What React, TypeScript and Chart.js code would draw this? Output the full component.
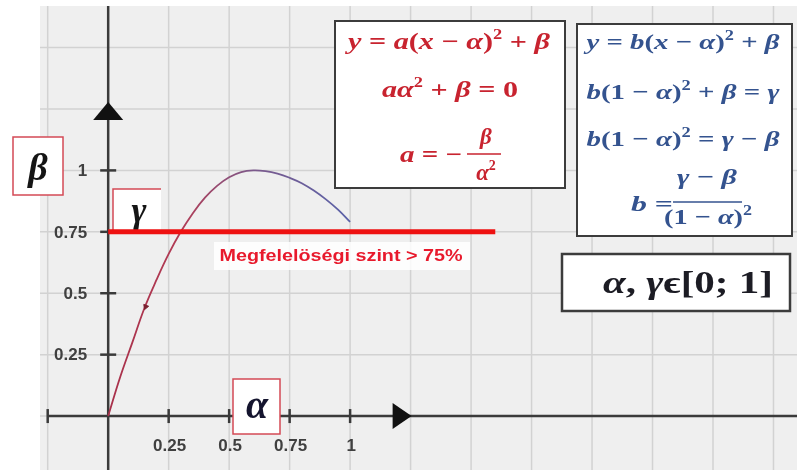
import React, { useEffect, useRef } from "react";
import { Chart, registerables } from "chart.js";

Chart.register(...registerables);

// ---------------- data ----------------
const curveX = [0, 0.05, 0.1, 0.15, 0.2, 0.25, 0.3, 0.35, 0.4, 0.45, 0.5, 0.55, 0.6, 0.65, 0.7, 0.75, 0.8, 0.85, 0.9, 0.95, 1];
const curveY = [0, 0.16, 0.3, 0.44, 0.555, 0.66, 0.75, 0.826, 0.889, 0.937, 0.972, 0.993, 1, 0.997, 0.987, 0.97, 0.948, 0.918, 0.882, 0.84, 0.79];
const thresholdX = [0, 1.6];
const thresholdY = [0.75, 0.75];
const markerX = [0.155];
const markerY = [0.445];
const xTickValues = [0.25, 0.5, 0.75, 1];
const xTickLabels = ["0.25", "0.5", "0.75", "1"];
const yTickValues = [0.25, 0.5, 0.75, 1];
const yTickLabels = ["0.25", "0.5", "0.75", "1"];
const xExtraTicks = [-0.25];
const gridStep = 0.25;
const arrowAt = 1.25;
const thresholdLabel = "Megfelelöségi szint > 75%";
const redLines = ["y = a(x − α)^2 + β", "aα^2 + β = 0"];
const redFrac = { lead: "a = −", num: "β", den: "α^2" };
const blueLines = ["y = b(x − α)^2 + β", "b(1 − α)^2 + β = γ", "b(1 − α)^2 = γ − β"];
const blueFrac = { lead: "b =", num: "γ − β", den: "(1 − α)^2" };
const rangeText = "α, γϵ[0; 1]";
const xLetter = "α";
const yLetter = "β";
const levelLetter = "γ";

// ---------------- helpers ----------------
const MATH_FAMILY = '"Liberation Serif", "DejaVu Serif", serif';
const SANS = '"Liberation Sans", Arial, sans-serif';

type Piece = { t: string; sup: boolean; it: boolean };
function mathPieces(expr: string): Piece[] {
  const out: Piece[] = [];
  const chars = Array.from(expr);
  for (let i = 0; i < chars.length; i++) {
    const ch = chars[i];
    if (ch === "^") {
      out.push({ t: chars[i + 1], sup: true, it: false });
      i++;
      continue;
    }
    out.push({ t: ch, sup: false, it: /[a-zA-Zα-ω]/.test(ch) });
  }
  return out;
}

function drawMath(ctx: CanvasRenderingContext2D, expr: string, cx: number, baseY: number, size: number, color: string, targetW?: number) {
  const ps = mathPieces(expr);
  const fontOf = (p: Piece) => `${p.it ? "italic " : ""}bold ${p.sup ? Math.round(size * 0.62) : size}px ${MATH_FAMILY}`;
  const ws: number[] = [];
  let w = 0;
  for (const p of ps) {
    ctx.font = fontOf(p);
    const m = ctx.measureText(p.t).width;
    ws.push(m);
    w += m;
  }
  const s = targetW ? targetW / w : 1;
  ctx.save();
  ctx.translate(cx - (w * s) / 2, baseY);
  ctx.scale(s, 1);
  ctx.fillStyle = color;
  ctx.textAlign = "left";
  ctx.textBaseline = "alphabetic";
  let xx = 0;
  ps.forEach((p, i) => {
    ctx.font = fontOf(p);
    ctx.fillText(p.t, xx, p.sup ? -size * 0.42 : 0);
    xx += ws[i];
  });
  ctx.restore();
}

function fitText(ctx: CanvasRenderingContext2D, text: string, cx: number, baseY: number, font: string, color: string, targetW: number) {
  ctx.save();
  ctx.font = font;
  const w = ctx.measureText(text).width;
  const s = targetW / w;
  ctx.translate(cx - targetW / 2, baseY);
  ctx.scale(s, 1);
  ctx.fillStyle = color;
  ctx.textAlign = "left";
  ctx.textBaseline = "alphabetic";
  ctx.fillText(text, 0, 0);
  ctx.restore();
}

function box(ctx: CanvasRenderingContext2D, l: number, t: number, r: number, b: number, stroke: string, lw: number) {
  ctx.fillStyle = "#ffffff";
  ctx.fillRect(l, t, r - l, b - t);
  ctx.strokeStyle = stroke;
  ctx.lineWidth = lw;
  ctx.strokeRect(l, t, r - l, b - t);
}

const RED_TXT = "#c8232f";
const BLUE_TXT = "#34538f";

// ---------------- plugins ----------------
const backPlugin = {
  id: "geoBack",
  beforeDatasetsDraw(chart: any) {
    const { ctx, width, height } = chart;
    const x = chart.scales.x;
    const y = chart.scales.y;
    const x0 = x.getPixelForValue(0);
    const y0 = y.getPixelForValue(0);
    ctx.save();
    ctx.fillStyle = "#ffffff";
    ctx.fillRect(0, 0, width, height);
    const viewL = 40;
    const viewT = 6;
    ctx.fillStyle = "#efefef";
    ctx.fillRect(viewL, viewT, width - viewL, height - viewT);

    // grid
    ctx.strokeStyle = "#d2d2d2";
    ctx.lineWidth = 1.5;
    for (let k = -1; k * gridStep <= x.max; k++) {
      const px = x.getPixelForValue(k * gridStep);
      if (px < viewL) continue;
      ctx.beginPath();
      ctx.moveTo(px, viewT);
      ctx.lineTo(px, height);
      ctx.stroke();
    }
    for (let k = -1; k * gridStep <= y.max; k++) {
      const py = y.getPixelForValue(k * gridStep);
      if (py < viewT || py > height) continue;
      ctx.beginPath();
      ctx.moveTo(viewL, py);
      ctx.lineTo(width, py);
      ctx.stroke();
    }

    // axes
    ctx.strokeStyle = "#3a3a3a";
    ctx.lineWidth = 2.5;
    ctx.beginPath();
    ctx.moveTo(x.getPixelForValue(xExtraTicks[0]), y0);
    ctx.lineTo(width, y0);
    ctx.stroke();
    ctx.beginPath();
    ctx.moveTo(x0, viewT);
    ctx.lineTo(x0, height);
    ctx.stroke();

    // ticks
    ctx.lineWidth = 2.5;
    [...xExtraTicks, ...xTickValues].forEach((v) => {
      const px = x.getPixelForValue(v);
      ctx.beginPath();
      ctx.moveTo(px, y0 - 7);
      ctx.lineTo(px, y0 + 7);
      ctx.stroke();
    });
    yTickValues.forEach((v) => {
      const py = y.getPixelForValue(v);
      ctx.beginPath();
      ctx.moveTo(x0 - 8, py);
      ctx.lineTo(x0 + 8, py);
      ctx.stroke();
    });

    // arrows
    ctx.fillStyle = "#111111";
    const ax = x.getPixelForValue(arrowAt) + 1;
    ctx.beginPath();
    ctx.moveTo(ax, y0);
    ctx.lineTo(ax - 19, y0 - 13);
    ctx.lineTo(ax - 19, y0 + 13);
    ctx.closePath();
    ctx.fill();
    const ay = y.getPixelForValue(arrowAt) - 7;
    ctx.beginPath();
    ctx.moveTo(x0, ay);
    ctx.lineTo(x0 - 15, ay + 18);
    ctx.lineTo(x0 + 15, ay + 18);
    ctx.closePath();
    ctx.fill();

    // tick labels
    ctx.fillStyle = "#404040";
    ctx.font = `bold 17px ${SANS}`;
    ctx.textAlign = "center";
    ctx.textBaseline = "middle";
    xTickValues.forEach((v, i) => {
      ctx.fillText(xTickLabels[i], x.getPixelForValue(v) + 1, y0 + 30);
    });
    ctx.textAlign = "right";
    yTickValues.forEach((v, i) => {
      ctx.fillText(yTickLabels[i], x0 - 21, y.getPixelForValue(v) + 1);
    });

    // gamma box (behind the threshold line)
    const gl = 113;
    const gt = 189;
    const gb = y.getPixelForValue(0.75);
    ctx.fillStyle = "#ffffff";
    ctx.fillRect(gl, gt, 48, gb - gt);
    ctx.strokeStyle = "#d44a55";
    ctx.lineWidth = 1.5;
    ctx.beginPath();
    ctx.moveTo(gl + 48, gt);
    ctx.lineTo(gl, gt);
    ctx.lineTo(gl, gb);
    ctx.stroke();
    ctx.fillStyle = "#151515";
    ctx.font = `italic bold 36px ${MATH_FAMILY}`;
    ctx.textAlign = "center";
    ctx.textBaseline = "alphabetic";
    ctx.fillText(levelLetter, 139, 222);
    ctx.restore();
  },
};

const frontPlugin = {
  id: "geoFront",
  afterDatasetsDraw(chart: any) {
    const { ctx } = chart;
    ctx.save();

    // alpha box on the x axis
    box(ctx, 233, 379, 280, 434, "#d44a55", 1.5);
    ctx.fillStyle = "#14142e";
    ctx.font = `italic bold 40px ${MATH_FAMILY}`;
    ctx.textAlign = "center";
    ctx.textBaseline = "alphabetic";
    ctx.fillText(xLetter, 257, 418);

    // beta box
    box(ctx, 13, 137, 63, 195, "#d44a55", 1.5);
    ctx.fillStyle = "#151515";
    ctx.font = `italic bold 38px ${MATH_FAMILY}`;
    ctx.fillText(yLetter, 38, 180);

    // threshold label
    ctx.fillStyle = "rgba(255,255,255,0.85)";
    ctx.fillRect(214, 242, 256, 28);
    fitText(ctx, thresholdLabel, 341, 261, `bold 16px ${SANS}`, "#e8192c", 243);

    // red formula box
    box(ctx, 335, 21, 565, 188, "#3c3c3c", 2);
    drawMath(ctx, redLines[0], 449, 49, 23, RED_TXT, 202);
    drawMath(ctx, redLines[1], 450, 97, 23, RED_TXT, 136);
    drawMath(ctx, redFrac.lead, 431, 162, 23, RED_TXT, 62);
    drawMath(ctx, redFrac.num, 486, 144, 23, RED_TXT);
    drawMath(ctx, redFrac.den, 486, 180, 23, RED_TXT);
    ctx.strokeStyle = RED_TXT;
    ctx.lineWidth = 1.5;
    ctx.beginPath();
    ctx.moveTo(467, 154);
    ctx.lineTo(501, 154);
    ctx.stroke();

    // blue formula box
    box(ctx, 577, 24, 792, 236, "#3c3c3c", 2);
    drawMath(ctx, blueLines[0], 683, 49, 22, BLUE_TXT, 193);
    drawMath(ctx, blueLines[1], 683, 99, 22, BLUE_TXT, 193);
    drawMath(ctx, blueLines[2], 683, 146, 22, BLUE_TXT, 193);
    drawMath(ctx, blueFrac.lead, 652, 211, 22, BLUE_TXT, 42);
    drawMath(ctx, blueFrac.num, 707, 184, 22, BLUE_TXT, 60);
    drawMath(ctx, blueFrac.den, 708, 224, 22, BLUE_TXT, 88);
    ctx.strokeStyle = BLUE_TXT;
    ctx.lineWidth = 1.5;
    ctx.beginPath();
    ctx.moveTo(673, 202);
    ctx.lineTo(742, 202);
    ctx.stroke();

    // range box
    box(ctx, 562, 254, 790, 311, "#3c3c3c", 2.5);
    drawMath(ctx, rangeText, 688, 293, 31, "#1c1c24", 170);

    ctx.restore();
  },
};

// ---------------- component ----------------
export default function App() {
  const ref = useRef<HTMLCanvasElement | null>(null);

  useEffect(() => {
    if (!ref.current) return;
    const curveColor = (context: any) => {
      const chart = context.chart;
      const { ctx, chartArea, scales } = chart;
      if (!chartArea) return "#b83a4c";
      const p0 = scales.x.getPixelForValue(0);
      const p1 = scales.x.getPixelForValue(1);
      const g = ctx.createLinearGradient(p0, 0, p1, 0);
      g.addColorStop(0, "#a8304a");
      g.addColorStop(0.3, "#b23c55");
      g.addColorStop(0.6, "#7c5a8c");
      g.addColorStop(1, "#5a62a8");
      return g;
    };

    const chart = new Chart(ref.current, {
      type: "scatter",
      data: {
        datasets: [
          {
            label: "curve",
            data: curveX.map((v, i) => ({ x: v, y: curveY[i] })),
            showLine: true,
            borderColor: curveColor,
            borderWidth: 1.8,
            pointRadius: 0,
            tension: 0.4,
            order: 2,
          },
          {
            label: "threshold",
            data: thresholdX.map((v, i) => ({ x: v, y: thresholdY[i] })),
            showLine: true,
            borderColor: "#ee1111",
            borderWidth: 5,
            pointRadius: 0,
            order: 1,
          },
          {
            label: "marker",
            data: markerX.map((v, i) => ({ x: v, y: markerY[i] })),
            showLine: false,
            pointStyle: "triangle",
            pointRotation: 201,
            pointRadius: 3,
            backgroundColor: "#7a2030",
            borderColor: "#7a2030",
            borderWidth: 1,
            order: 0,
          },
        ],
      },
      options: {
        animation: false,
        responsive: false,
        maintainAspectRatio: false,
        devicePixelRatio: 1,
        layout: { padding: 0 },
        events: [],
        plugins: {
          legend: { display: false },
          tooltip: { enabled: false },
        },
        scales: {
          x: { type: "linear", min: -0.4265, max: 2.8265, display: false },
          y: { type: "linear", min: -0.1992, max: 1.6733, display: false },
        },
      },
      plugins: [backPlugin, frontPlugin],
    } as any);
    return () => chart.destroy();
  }, []);

  return (
    <div style={{ position: "absolute", left: 0, top: 0, width: 797, height: 470 }}>
      <canvas ref={ref} width={797} height={470} style={{ display: "block", width: 797, height: 470 }} />
    </div>
  );
}
